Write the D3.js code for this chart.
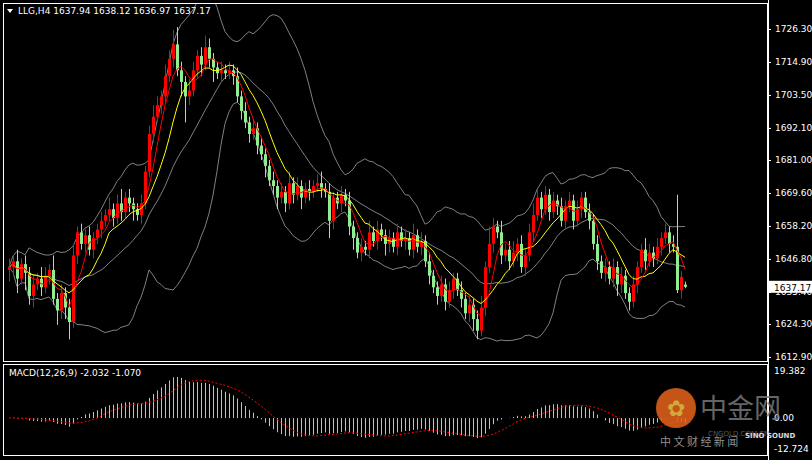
<!DOCTYPE html>
<html>
<head>
<meta charset="utf-8">
<script src="https://cdn.jsdelivr.net/npm/d3@7"></script>
<style>
body{margin:0;background:#000;}
svg{display:block;}
</style>
</head>
<body>
<div id="draw"></div>
<script>
// 收盘价 (H4)
var closes = [
    1644, 1646, 1640, 1645, 1642, 1634, 1638, 1640, 1637, 1641,
    1643, 1633, 1629, 1635, 1630, 1625, 1648, 1656, 1652, 1655,
    1650, 1654, 1657, 1660, 1662, 1664, 1661, 1666, 1663, 1668,
    1666, 1664, 1662, 1666, 1677, 1690, 1696, 1700, 1703, 1710,
    1716, 1721, 1712, 1708, 1703, 1705, 1712, 1717, 1714, 1720,
    1716, 1713, 1711, 1712, 1711, 1712, 1710, 1703, 1698, 1694,
    1690, 1692, 1686, 1683, 1679, 1674, 1672, 1668, 1670, 1666,
    1673, 1669, 1672, 1668, 1671, 1670, 1672, 1673, 1671, 1670,
    1660, 1668, 1666, 1669, 1667, 1658, 1654, 1649, 1651, 1650,
    1656, 1653, 1657, 1655, 1652, 1654, 1651, 1656, 1653, 1654,
    1650, 1655, 1651, 1653, 1646, 1641, 1637, 1634, 1638, 1632,
    1636, 1640, 1636, 1633, 1628, 1631, 1626, 1622, 1630, 1644,
    1652, 1658, 1656, 1648, 1650, 1646, 1649, 1652, 1644, 1648,
    1656, 1662, 1668, 1664, 1669, 1663, 1667, 1665, 1660, 1665,
    1667, 1660, 1664, 1668, 1663, 1660, 1652, 1646, 1642, 1644,
    1640, 1644, 1638, 1641, 1635, 1632, 1638, 1644, 1650, 1646,
    1649, 1647, 1651, 1654, 1656, 1652, 1651, 1636, 1640.6, 1637.17
];
// 上影线/下影线长度
var wickUp = [
    3, 2, 4, 2, 3, 2, 3, 2, 4, 3, 2, 5, 2, 3, 2, 3, 4, 2, 3, 2,
    3, 2, 2, 3, 2, 4, 2, 3, 5, 2, 3, 2, 2, 3, 2, 3, 4, 3, 2, 4,
    3, 5, 6, 3, 2, 4, 3, 2, 3, 4, 3, 2, 2, 3, 2, 3, 2, 3, 2, 3,
    2, 3, 2, 3, 2, 2, 3, 2, 3, 2, 4, 2, 3, 2, 2, 3, 2, 3, 4, 2,
    3, 2, 2, 3, 2, 3, 2, 2, 3, 2, 4, 2, 3, 2, 2, 3, 2, 3, 2, 3,
    2, 4, 2, 3, 2, 3, 2, 2, 3, 2, 3, 2, 2, 3, 2, 3, 2, 3, 4, 2,
    6, 3, 2, 4, 2, 3, 4, 2, 3, 2, 3, 4, 3, 2, 3, 2, 3, 2, 3, 2,
    3, 2, 3, 2, 2, 3, 2, 3, 2, 3, 2, 3, 2, 3, 2, 2, 3, 2, 2, 4,
    3, 2, 3, 2, 3, 2, 3, 18, 2, 1
];
var wickDn = [
    4, 3, 5, 2, 6, 3, 4, 2, 3, 2, 3, 2, 5, 3, 4, 6, 2, 3, 2, 3,
    2, 3, 2, 3, 2, 2, 3, 2, 3, 2, 3, 4, 2, 3, 2, 2, 3, 2, 3, 2,
    2, 3, 2, 5, 9, 3, 2, 3, 4, 2, 3, 5, 2, 3, 2, 2, 3, 2, 3, 2,
    3, 2, 3, 2, 4, 2, 3, 4, 2, 3, 2, 3, 2, 4, 2, 3, 2, 2, 3, 2,
    6, 3, 2, 3, 2, 3, 4, 2, 3, 2, 3, 2, 3, 2, 4, 3, 2, 3, 2, 3,
    2, 3, 2, 3, 2, 3, 2, 3, 2, 3, 2, 3, 2, 3, 2, 3, 4, 3, 2, 3,
    2, 3, 2, 3, 2, 3, 2, 3, 2, 3, 2, 3, 2, 3, 2, 3, 2, 3, 2, 3,
    2, 3, 2, 3, 2, 3, 2, 3, 2, 3, 2, 3, 4, 3, 2, 3, 2, 3, 2, 3,
    2, 3, 2, 3, 2, 3, 2, 1, 3, 0.5
];
var priceTicks = [1726.30, 1714.90, 1703.50, 1692.10, 1681.00, 1669.60, 1658.20, 1646.80, 1635.40, 1624.30, 1612.90];
var macdTicks = [19.382, 0.00, -12.724];
var lastOpen = 1637.94;

var w = 812, h = 460;
var svg = d3.select("#draw").append("svg").attr("width", w).attr("height", h);
svg.append("rect").attr("width", w).attr("height", h).attr("fill", "#000");

var n = closes.length;
var x = d3.scaleLinear().domain([0, n - 1]).range([9, 685]);
var y = d3.scaleLinear().domain([1612.9, 1726.3]).range([357, 29]);
var ym = d3.scaleLinear().domain([-12.724, 19.382]).range([449, 371]);

// 蜡烛数据
var candles = closes.map(function(c, i) {
    var o = i === n - 1 ? lastOpen : (i === 0 ? c - 1 : closes[i - 1]);
    return {i: i, o: o, c: c, hi: Math.max(o, c) + wickUp[i], lo: Math.min(o, c) - wickDn[i]};
});

function sma(arr, p) {
    return arr.map(function(v, i) {
        var s = arr.slice(Math.max(0, i - p + 1), i + 1);
        return d3.mean(s);
    });
}
function ema(arr, p) {
    var k = 2 / (p + 1), out = [], prev = arr[0];
    arr.forEach(function(v) { prev = prev + k * (v - prev); out.push(prev); });
    return out;
}
var ma5 = sma(closes, 5), ma10 = sma(closes, 10), mid = sma(closes, 20);
var bbUp = [], bbDn = [];
closes.forEach(function(v, i) {
    var s = closes.slice(Math.max(0, i - 19), i + 1);
    var sd = d3.deviation(s) || 0;
    bbUp.push(mid[i] + 2 * sd); bbDn.push(mid[i] - 2 * sd);
});
var e12 = ema(closes, 12), e26 = ema(closes, 26);
var macd = e12.map(function(v, i) { return v - e26[i]; });
var signal = sma(macd, 9);

// 边框
svg.append("rect").attr("x", 3.5).attr("y", 3.5).attr("width", 764).attr("height", 358)
    .attr("fill", "none").attr("stroke", "#fff");
svg.append("rect").attr("x", 3.5).attr("y", 364.5).attr("width", 764).attr("height", 91)
    .attr("fill", "none").attr("stroke", "#fff");

var g = svg.append("g");
g.append("clipPath").attr("id", "cp").append("rect").attr("x", 4).attr("y", 4).attr("width", 763).attr("height", 357);
var plot = g.append("g").attr("clip-path", "url(#cp)");

var line = function(arr) {
    return d3.line().x(function(d, i) { return x(i); }).y(function(d) { return y(d); })(arr);
};
[bbUp, mid, bbDn].forEach(function(a) {
    plot.append("path").attr("d", line(a)).attr("fill", "none").attr("stroke", "#808080").attr("stroke-width", 1);
});

plot.selectAll("line.wick").data(candles).enter().append("line")
    .attr("x1", function(d) { return x(d.i) + 0.5; })
    .attr("x2", function(d) { return x(d.i) + 0.5; })
    .attr("y1", function(d) { return y(d.hi); })
    .attr("y2", function(d) { return y(d.lo); })
    .attr("stroke", function(d) { return d.c >= d.o ? "#ff0000" : "#90ee90"; });
plot.selectAll("rect.body").data(candles).enter().append("rect")
    .attr("x", function(d) { return x(d.i) - 1; })
    .attr("y", function(d) { return y(Math.max(d.o, d.c)); })
    .attr("width", 3)
    .attr("height", function(d) { return Math.max(1, Math.abs(y(d.o) - y(d.c))); })
    .attr("fill", function(d) { return d.c >= d.o ? "#ff0000" : "#90ee90"; });

plot.append("path").attr("d", line(ma10)).attr("fill", "none").attr("stroke", "#ffff00").attr("stroke-width", 1);
plot.append("path").attr("d", line(ma5)).attr("fill", "none").attr("stroke", "#ff0000").attr("stroke-width", 1);

// 价格坐标轴
var ax = svg.append("g").attr("transform", "translate(768,0)")
    .call(d3.axisRight(y).tickValues(priceTicks).tickSize(3).tickFormat(d3.format(".2f")));
ax.select(".domain").attr("stroke", "#fff");
ax.selectAll("line").attr("stroke", "#fff");
ax.selectAll("text").attr("fill", "#fff").attr("font-family", "DejaVu Sans").attr("font-size", "9px").attr("x", 7);
svg.append("line").attr("x1", 768.5).attr("x2", 768.5).attr("y1", 0).attr("y2", h).attr("stroke", "#fff");

// 当前价格标签
var yl = y(closes[n - 1]);
svg.append("rect").attr("x", 769).attr("y", yl - 6).attr("width", 43).attr("height", 12).attr("fill", "#fff");
svg.append("text").attr("x", 774).attr("y", yl + 4).text(closes[n - 1].toFixed(2))
    .attr("font-family", "DejaVu Sans").attr("font-size", "9px").attr("fill", "#000");

// 标题
svg.append("path").attr("d", "M7,9 L13,9 L10,13 Z").attr("fill", "#fff");
svg.append("text").attr("x", 18).attr("y", 14)
    .text("LLG,H4  1637.94 1638.12 1636.97 " + closes[n - 1].toFixed(2))
    .attr("font-family", "DejaVu Sans").attr("font-size", "9px").attr("fill", "#fff");

// MACD
var mg = svg.append("g");
mg.selectAll("line.h").data(macd).enter().append("line")
    .attr("x1", function(d, i) { return x(i) + 0.5; })
    .attr("x2", function(d, i) { return x(i) + 0.5; })
    .attr("y1", ym(0))
    .attr("y2", function(d) { return ym(d); })
    .attr("stroke", "#c0c0c0").attr("stroke-width", 1);
mg.append("path")
    .attr("d", d3.line().x(function(d, i) { return x(i); }).y(function(d) { return ym(d); })(signal))
    .attr("fill", "none").attr("stroke", "#ff0000").attr("stroke-width", 1).attr("stroke-dasharray", "2,2");
svg.append("text").attr("x", 9).attr("y", 376)
    .text("MACD(12,26,9) " + macd[n - 1].toFixed(3) + " " + signal[n - 1].toFixed(3))
    .attr("font-family", "DejaVu Sans").attr("font-size", "9px").attr("fill", "#fff");
svg.selectAll("text.mt").data(macdTicks).enter().append("text")
    .attr("x", 774).attr("y", function(d) { return ym(d) + 3; })
    .text(function(d) { return d === 0 ? "0.00" : d.toFixed(3); })
    .attr("font-family", "DejaVu Sans").attr("font-size", "9px").attr("fill", "#fff");

// 水印
var wm = svg.append("g").attr("opacity", 0.85);
wm.append("circle").attr("cx", 676).attr("cy", 408).attr("r", 20).attr("fill", "#e8641a");
wm.append("text").attr("x", 676).attr("y", 416).attr("text-anchor", "middle").text("✿")
    .attr("font-size", "22px").attr("fill", "#f7c64a");
wm.append("text").attr("x", 700).attr("y", 418).text("中金网")
    .attr("font-family", "Noto Sans CJK SC").attr("font-size", "27px").attr("fill", "#777");
wm.append("text").attr("x", 708).attr("y", 436).text("CNGOLD.COM.CN")
    .attr("font-family", "DejaVu Sans").attr("font-size", "7px").attr("fill", "#666");
wm.append("text").attr("x", 660).attr("y", 446).text("中 文 财 经 新 闻")
    .attr("font-family", "Noto Sans CJK SC").attr("font-size", "11px").attr("fill", "#aaa");
wm.append("text").attr("x", 745).attr("y", 438).text("SINO SOUND")
    .attr("font-family", "DejaVu Sans").attr("font-size", "7px").attr("font-weight", "bold").attr("fill", "#fff");
</script>
</body>
</html>
